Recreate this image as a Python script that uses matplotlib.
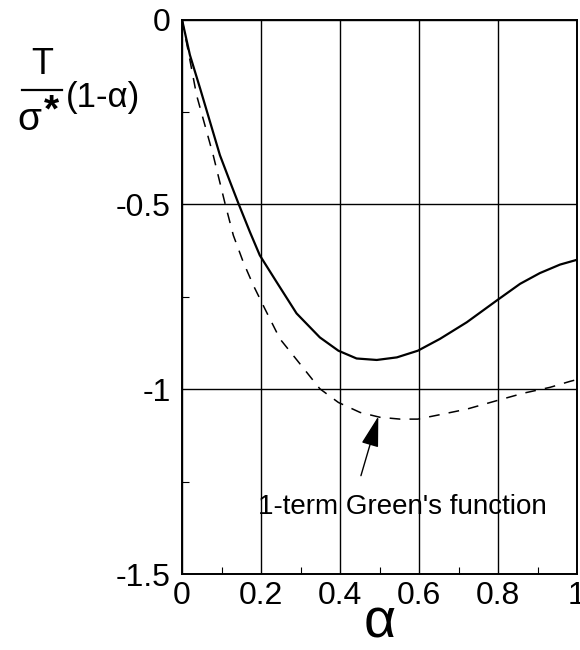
import matplotlib
matplotlib.use("Agg")
import matplotlib.pyplot as plt
from matplotlib.lines import Line2D
from matplotlib.ticker import MultipleLocator

plt.rcParams['font.family'] = ['Liberation Sans', 'DejaVu Sans']

# full solution (solid)
alpha_full = [0.0, 0.020, 0.046, 0.071, 0.096, 0.122, 0.143, 0.172, 0.197, 0.240,
              0.290, 0.349, 0.396, 0.442, 0.493, 0.544, 0.597, 0.653, 0.721,
              0.797, 0.856, 0.906, 0.957, 1.0]
t_full = [0.0, -0.096, -0.187, -0.277, -0.367, -0.440, -0.498, -0.575, -0.638, -0.711,
          -0.795, -0.860, -0.896, -0.917, -0.921, -0.914, -0.896, -0.864, -0.819,
          -0.760, -0.715, -0.686, -0.663, -0.650]

# 1-term Green's function (dashed)
alpha_green = [0.0, 0.016, 0.037, 0.058, 0.079, 0.109, 0.130, 0.155, 0.181, 0.210,
               0.248, 0.299, 0.349, 0.396, 0.451, 0.501, 0.552, 0.597, 0.653,
               0.721, 0.797, 0.864, 0.932, 0.982, 1.0]
t_green = [0.0, -0.087, -0.205, -0.286, -0.367, -0.498, -0.584, -0.656, -0.720, -0.783,
           -0.864, -0.932, -0.999, -1.036, -1.063, -1.076, -1.081, -1.081, -1.069,
           -1.054, -1.031, -1.011, -0.995, -0.979, -0.974]

xtick_vals = [0, 0.2, 0.4, 0.6, 0.8, 1.0]
xtick_labels = ['0', '0.2', '0.4', '0.6', '0.8', '1']
ytick_vals = [0, -0.5, -1, -1.5]
ytick_labels = ['0', '-0.5', '-1', '-1.5']

W, H = 580, 650
fig = plt.figure(figsize=(5.8, 6.5), dpi=100)
ax = fig.add_axes([182 / W, 1 - 574 / H, 395 / W, (574 - 19.5) / H])

ax.plot(alpha_full, t_full, color='black', lw=1.6, solid_joinstyle='round')
ax.plot(alpha_green, t_green, color='black', lw=1.1, dashes=(7, 6))

ax.set_xlim(0, 1)
ax.set_ylim(-1.5, 0)
ax.set_xticks(xtick_vals)
ax.set_xticklabels(xtick_labels)
ax.set_yticks(ytick_vals)
ax.set_yticklabels(ytick_labels)
ax.xaxis.set_minor_locator(MultipleLocator(0.1))
ax.yaxis.set_minor_locator(MultipleLocator(0.25))
ax.grid(True, which='major', color='black', lw=1.0)
ax.tick_params(which='both', direction='in', labelsize=23)
ax.tick_params(axis='y', pad=8)
ax.tick_params(axis='x', pad=5)
ax.tick_params(which='major', length=0)
ax.tick_params(which='minor', length=5, width=0.8)
for s in ax.spines.values():
    s.set_linewidth(1.4)

# x label
fig.text(380 / W, 1 - 624 / H, 'α', fontsize=40, ha='center', va='center')

# y label: T / sigma* (1-alpha)
fig.text(42 / W, 1 - 65 / H, 'T', fontsize=26, ha='center', va='center')
fig.add_artist(Line2D([22 / W, 62 / W], [1 - 90 / H, 1 - 90 / H],
                      color='black', lw=1.6, transform=fig.transFigure))
fig.text(29 / W, 1 - 130 / H, 'σ', fontsize=28, ha='center', va='baseline')
fig.text(51 / W, 1 - 111 / H, '*', fontsize=28, ha='center', va='center',
         fontweight='bold')
fig.text(66 / W, 1 - 97 / H, '(1-α)', fontsize=25, ha='left', va='center')

# annotation
ax.text(0.192, -1.318, "1-term Green's function", fontsize=20, ha='left', va='center')
ax.annotate('', xy=(0.497, -1.0737), xytext=(0.453, -1.234),
            arrowprops=dict(arrowstyle='-|>,head_length=0.95,head_width=0.27',
                            mutation_scale=20, color='black', lw=1.0,
                            shrinkA=0, shrinkB=0))

fig.savefig('out.png', dpi=100)
